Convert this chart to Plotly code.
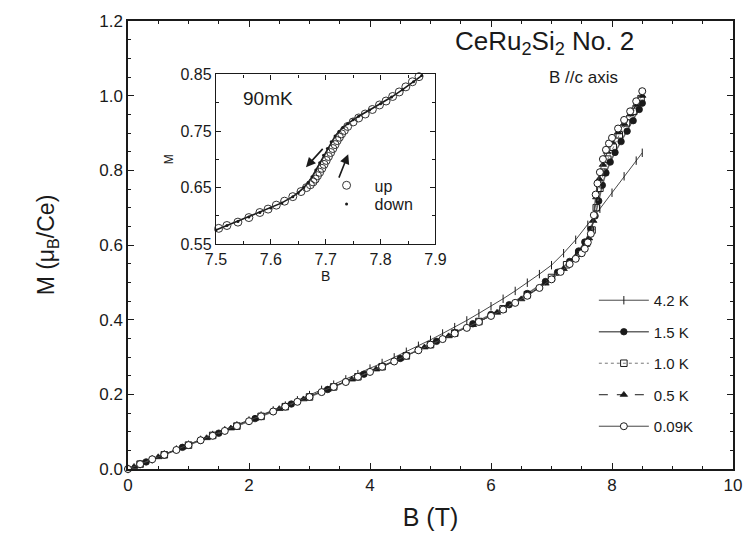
import plotly.graph_objects as go

# ---------------- main panel data (B in T, M in muB/Ce) ----------------
B_42 = [0, 0.2, 0.4, 0.6, 0.8, 1.0, 1.2, 1.4, 1.6, 1.8, 2.0, 2.2, 2.4, 2.6, 2.8, 3.0,
        3.2, 3.4, 3.6, 3.8, 4.0, 4.2, 4.4, 4.6, 4.8, 5.0, 5.2, 5.4, 5.6, 5.8, 6.0, 6.2,
        6.4, 6.6, 6.8, 7.0, 7.2, 7.4, 7.6, 7.8, 8.0, 8.2, 8.4, 8.5]
M_42 = [0, 0.013, 0.026, 0.039, 0.052, 0.065, 0.078, 0.091, 0.104, 0.117, 0.130, 0.143,
        0.157, 0.170, 0.184, 0.198, 0.212, 0.226, 0.240, 0.254, 0.269, 0.284, 0.299,
        0.314, 0.330, 0.346, 0.363, 0.380, 0.398, 0.417, 0.436, 0.456, 0.477, 0.499,
        0.522, 0.546, 0.578, 0.614, 0.654, 0.697, 0.740, 0.784, 0.826, 0.847]

B_15 = [0, 0.3, 0.6, 0.9, 1.2, 1.5, 1.8, 2.1, 2.4, 2.7, 3.0, 3.3, 3.6, 3.9, 4.2, 4.5,
        4.8, 5.1, 5.4, 5.7, 6.0, 6.3, 6.6, 6.9, 7.1, 7.3, 7.45, 7.55, 7.65, 7.72, 7.78,
        7.84, 7.9, 7.97, 8.05, 8.15, 8.25, 8.35, 8.45, 8.5]
M_15 = [0, 0.019, 0.038, 0.058, 0.077, 0.096, 0.115, 0.135, 0.154, 0.174, 0.193, 0.213,
        0.234, 0.254, 0.275, 0.296, 0.319, 0.342, 0.365, 0.389, 0.414, 0.440, 0.470,
        0.502, 0.527, 0.556, 0.584, 0.608, 0.642, 0.678, 0.718, 0.760, 0.793, 0.822,
        0.848, 0.877, 0.905, 0.933, 0.963, 0.980]

B_10 = [0.2, 0.6, 1.0, 1.4, 1.8, 2.2, 2.6, 3.0, 3.4, 3.8, 4.2, 4.6, 5.0, 5.4, 5.8, 6.2,
        6.6, 7.0, 7.25, 7.45, 7.58, 7.67, 7.74, 7.8, 7.86, 7.93, 8.02, 8.12, 8.24, 8.36, 8.48]
M_10 = [0.013, 0.038, 0.064, 0.090, 0.115, 0.141, 0.167, 0.193, 0.220, 0.247, 0.274,
        0.303, 0.333, 0.364, 0.395, 0.429, 0.467, 0.513, 0.547, 0.578, 0.605, 0.640,
        0.700, 0.752, 0.795, 0.830, 0.862, 0.895, 0.927, 0.958, 0.992]

B_05 = [0.1, 0.5, 0.9, 1.3, 1.7, 2.1, 2.5, 2.9, 3.3, 3.7, 4.1, 4.5, 4.9, 5.3, 5.7, 6.1,
        6.5, 6.9, 7.2, 7.4, 7.52, 7.62, 7.69, 7.74, 7.79, 7.85, 7.92, 8.0, 8.1, 8.2, 8.3,
        8.4, 8.5]
M_05 = [0.006, 0.032, 0.058, 0.083, 0.109, 0.135, 0.161, 0.187, 0.213, 0.240, 0.267,
        0.296, 0.326, 0.356, 0.386, 0.419, 0.455, 0.497, 0.536, 0.568, 0.590, 0.618,
        0.665, 0.728, 0.777, 0.815, 0.850, 0.876, 0.902, 0.925, 0.950, 0.976, 1.000]

B_009 = [0, 0.2, 0.4, 0.6, 0.8, 1.0, 1.2, 1.4, 1.6, 1.8, 2.0, 2.2, 2.4, 2.6, 2.8, 3.0,
         3.2, 3.4, 3.6, 3.8, 4.0, 4.2, 4.4, 4.6, 4.8, 5.0, 5.2, 5.4, 5.6, 5.8, 6.0, 6.2,
         6.4, 6.6, 6.8, 7.0, 7.15, 7.3, 7.4, 7.5, 7.55, 7.6, 7.65, 7.7, 7.73, 7.76, 7.8,
         7.85, 7.9, 7.95, 8.0, 8.1, 8.2, 8.3, 8.4, 8.5]
M_009 = [0, 0.013, 0.026, 0.038, 0.051, 0.064, 0.077, 0.089, 0.102, 0.115, 0.128, 0.141,
         0.154, 0.167, 0.180, 0.193, 0.206, 0.220, 0.233, 0.247, 0.260, 0.274, 0.288,
         0.303, 0.318, 0.333, 0.348, 0.363, 0.378, 0.394, 0.410, 0.427, 0.445, 0.464,
         0.485, 0.508, 0.528, 0.549, 0.563, 0.578, 0.590, 0.607, 0.630, 0.680, 0.735,
         0.765, 0.795, 0.830, 0.855, 0.872, 0.887, 0.912, 0.935, 0.958, 0.985, 1.012]

# ---------------- inset data (90 mK) ----------------
B_up = [7.505, 7.52, 7.54, 7.56, 7.58, 7.595, 7.61, 7.625, 7.64, 7.655, 7.665, 7.672,
        7.677, 7.681, 7.685, 7.689, 7.693, 7.697, 7.701, 7.705, 7.709, 7.713, 7.717,
        7.721, 7.725, 7.729, 7.734, 7.74, 7.75, 7.76, 7.772, 7.785, 7.798, 7.81, 7.822,
        7.834, 7.846, 7.858, 7.87]
M_up = [0.578, 0.583, 0.589, 0.597, 0.606, 0.612, 0.619, 0.626, 0.634, 0.643, 0.650,
        0.655, 0.660, 0.665, 0.671, 0.677, 0.684, 0.691, 0.698, 0.705, 0.712, 0.719,
        0.726, 0.733, 0.739, 0.745, 0.751, 0.758, 0.766, 0.773, 0.780, 0.788, 0.796,
        0.803, 0.811, 0.819, 0.828, 0.837, 0.846]
B_down = [7.50, 7.52, 7.54, 7.56, 7.58, 7.60, 7.62, 7.64, 7.65, 7.66, 7.668, 7.675, 7.682,
          7.689, 7.696, 7.703, 7.71, 7.717, 7.724, 7.731, 7.74, 7.75, 7.76, 7.78, 7.80,
          7.82, 7.84, 7.86, 7.875]
M_down = [0.575, 0.583, 0.590, 0.598, 0.606, 0.614, 0.623, 0.634, 0.641, 0.650, 0.659,
          0.669, 0.681, 0.694, 0.707, 0.719, 0.731, 0.741, 0.749, 0.756, 0.763, 0.770,
          0.776, 0.787, 0.798, 0.810, 0.823, 0.837, 0.848]

FONT = "Arial, Liberation Sans, Helvetica, sans-serif"
INK = "#1a1a1a"

fig = go.Figure()

series = [
    ("4.2 K", B_42, M_42, dict(symbol="line-ns", size=6, line=dict(width=1, color=INK), color=INK),
     dict(width=0.9, color="#333")),
    ("1.5 K", B_15, M_15, dict(symbol="circle", size=6.5, color=INK, line=dict(width=0.8, color=INK)),
     dict(width=1.5, color="#666")),
    ("1.0 K", B_10, M_10, dict(symbol="square-open", size=6.5, color=INK, line=dict(width=1, color=INK)),
     dict(width=1, color="#777", dash="dot")),
    ("0.5 K", B_05, M_05, dict(symbol="triangle-up", size=6.5, color=INK, line=dict(width=0.8, color=INK)),
     dict(width=1, color=INK, dash="dash")),
    ("0.09K", B_009, M_009, dict(symbol="circle", size=7, color="white", line=dict(width=1, color=INK)),
     dict(width=1, color="#444")),
]
for i, (name, bx, my, mk, ln) in enumerate(series):
    fig.add_trace(go.Scatter(x=bx, y=my, name=name, mode="lines+markers", marker=mk, line=ln,
                             xaxis="x", yaxis="y", legendgroup=f"g{i}", cliponaxis=False))

# inset traces
fig.add_trace(go.Scatter(x=B_down, y=M_down, mode="lines", line=dict(width=1.6, color=INK),
                         xaxis="x2", yaxis="y2", showlegend=False, hoverinfo="skip"))
fig.add_trace(go.Scatter(x=B_up, y=M_up, name="up", mode="markers", legend="legend2",
                         marker=dict(symbol="circle-open", size=8, color="#333", line=dict(width=1)),
                         xaxis="x2", yaxis="y2", cliponaxis=False))
fig.add_trace(go.Scatter(x=B_down, y=M_down, name="down", mode="markers", legend="legend3",
                         marker=dict(symbol="circle", size=3, color=INK),
                         xaxis="x2", yaxis="y2", cliponaxis=False))

ax_common = dict(showgrid=False, zeroline=False, showline=True, linecolor=INK, linewidth=1.5,
                 mirror="allticks", ticks="inside", tickcolor=INK, tickwidth=1.2,
                 tickfont=dict(family=FONT, size=17, color=INK))
in_common = dict(showgrid=False, zeroline=False, showline=True, linecolor=INK, linewidth=1.3,
                 mirror="allticks", ticks="inside", tickcolor=INK, tickwidth=1.1, ticklen=5,
                 tickfont=dict(family=FONT, size=16, color=INK))
small_legend = dict(xanchor="left", yanchor="top", bgcolor="rgba(0,0,0,0)",
                    font=dict(family=FONT, size=16, color=INK), itemwidth=46)

fig.update_layout(
    width=756, height=539,
    margin=dict(l=128, r=18, t=17, b=69),
    paper_bgcolor="white", plot_bgcolor="white",
    font=dict(family=FONT, color=INK),
    xaxis=dict(**ax_common, range=[0, 10], dtick=2, ticklen=6,
               minor=dict(dtick=0.5, ticklen=3, ticks="inside", tickcolor=INK),
               title=dict(text="B (T)", font=dict(size=25), standoff=14)),
    yaxis=dict(**ax_common, range=[0, 1.2], dtick=0.2, tickformat=".1f", ticklen=6,
               minor=dict(dtick=0.05, ticklen=3, ticks="inside", tickcolor=INK),
               title=dict(text="M (μ<sub>B</sub>/Ce)", font=dict(size=23), standoff=38)),
    xaxis2=dict(**in_common, domain=[0.1454, 0.5082], anchor="y2", range=[7.5, 7.9], dtick=0.1,
                tickformat=".1f", minor=dict(dtick=0.05, ticklen=3, ticks="inside", tickcolor=INK),
                title=dict(text="B", font=dict(size=14), standoff=2)),
    yaxis2=dict(**in_common, domain=[0.5018, 0.8808], anchor="x2", range=[0.55, 0.85],
                tick0=0.55, dtick=0.1, tickformat=".2f",
                minor=dict(dtick=0.05, ticklen=3, ticks="inside", tickcolor=INK),
                title=dict(text="M", font=dict(size=12), standoff=4)),
    legend=dict(x=0.77, y=0.413, xanchor="left", yanchor="top", bgcolor="rgba(0,0,0,0)",
                font=dict(family=FONT, size=15, color=INK), tracegroupgap=9,
                traceorder="grouped", itemwidth=50),
    legend2=dict(**small_legend, x=0.315, y=0.671),
    legend3=dict(**small_legend, x=0.315, y=0.629),
    showlegend=True,
    annotations=[
        dict(text="CeRu<sub>2</sub>Si<sub>2</sub> No. 2", xref="paper", yref="paper",
             x=0.689, y=0.951, xanchor="center", yanchor="middle", showarrow=False,
             font=dict(size=26, family=FONT, color=INK)),
        dict(text="B //c axis", xref="paper", yref="paper", x=0.753, y=0.873,
             xanchor="center", yanchor="middle", showarrow=False,
             font=dict(size=17, family=FONT, color=INK)),
        dict(text="90mK", xref="paper", yref="paper", x=0.231, y=0.827,
             xanchor="center", yanchor="middle", showarrow=False,
             font=dict(size=19, family=FONT, color=INK)),
        dict(x=7.664, y=0.686, ax=7.697, ay=0.721, xref="x2", yref="y2", axref="x2", ayref="y2",
             showarrow=True, arrowhead=2, arrowsize=1.2, arrowwidth=1.6, arrowcolor=INK, text=""),
        dict(x=7.741, y=0.709, ax=7.723, ay=0.665, xref="x2", yref="y2", axref="x2", ayref="y2",
             showarrow=True, arrowhead=2, arrowsize=1.2, arrowwidth=1.6, arrowcolor=INK, text=""),
    ],
)

fig.write_html("out.html")
